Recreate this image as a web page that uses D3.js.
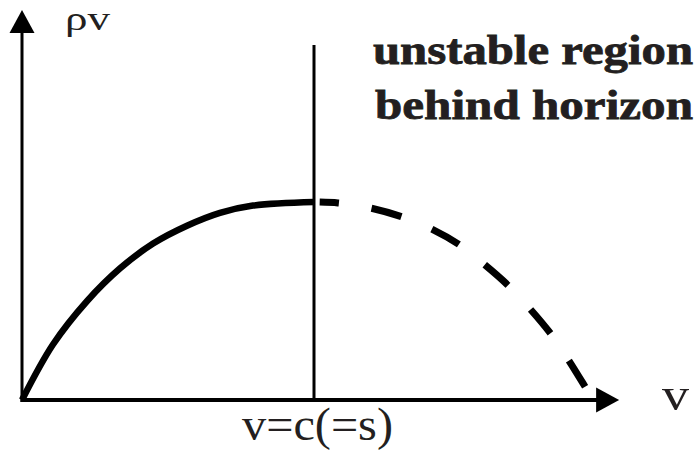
<!DOCTYPE html>
<html>
<head>
<meta charset="utf-8">
<script src="https://cdn.jsdelivr.net/npm/d3@7"></script>
<style>
  body { margin: 0; background: #fff; }
  svg { display: block; }
</style>
</head>
<body>
<div id="viz"></div>
<script>
// rho*v against v, v in units of c, rho*v in units of its maximum
const subsonicV   = [0, 0.106, 0.223, 0.336, 0.449, 0.565, 0.678, 0.791, 1.0];
const subsonicF   = [0, 0.280, 0.500, 0.665, 0.790, 0.880, 0.945, 0.982, 1.0];
const supersonicV = [1.0, 1.082, 1.192, 1.301, 1.397, 1.497, 1.579, 1.664, 1.740, 1.808, 1.866, 1.921, 1.955];
const supersonicF = [1.0, 0.995, 0.970, 0.925, 0.868, 0.785, 0.690, 0.580, 0.460, 0.340, 0.215, 0.085, 0];

const axisLabelY = 'ρv';
const axisLabelX = 'v';
const sonicLabel = 'v=c(=s)';
const regionLabel = ['unstable region', 'behind horizon'];

const dimensions = { width: 694, height: 458 };
const serif = 'Liberation Serif';

const svg = d3.select('#viz').append('svg')
    .attr('width', dimensions.width)
    .attr('height', dimensions.height);

const xScale = d3.scaleLinear().domain([0, 1]).range([22, 314]);
const yScale = d3.scaleLinear().domain([0, 1]).range([400, 202]);

const xEnd = 2.045;   // arrow tip of v axis
const yEnd = 1.97;    // arrow tip of rho v axis
const head = 23, half = 12.5;

// axes
svg.append('line')
    .attr('x1', xScale(0)).attr('x2', xScale(0))
    .attr('y1', yScale(0) + 2).attr('y2', yScale(yEnd) + head - 1)
    .attr('stroke', '#000').attr('stroke-width', 3);

svg.append('line')
    .attr('x1', xScale(0) - 1.5).attr('x2', xScale(xEnd) - head + 1)
    .attr('y1', yScale(0)).attr('y2', yScale(0))
    .attr('stroke', '#000').attr('stroke-width', 4);

const tipX = xScale(xEnd), tipY = yScale(yEnd);
svg.append('path')
    .attr('d', `M${tipX},${yScale(0)} L${tipX - head},${yScale(0) - half} L${tipX - head},${yScale(0) + half} Z`)
    .attr('fill', '#000');
svg.append('path')
    .attr('d', `M${xScale(0)},${tipY} L${xScale(0) - half},${tipY + head} L${xScale(0) + half},${tipY + head} Z`)
    .attr('fill', '#000');

// sonic point line
svg.append('line')
    .attr('x1', xScale(1)).attr('x2', xScale(1))
    .attr('y1', 45).attr('y2', yScale(0))
    .attr('stroke', '#000').attr('stroke-width', 3);

const line = d3.line()
    .x(d => xScale(d[0]))
    .y(d => yScale(d[1]))
    .curve(d3.curveCatmullRom.alpha(0.5));

svg.append('path')
    .datum(d3.zip(subsonicV, subsonicF))
    .attr('d', line)
    .attr('fill', 'none')
    .attr('stroke', '#000')
    .attr('stroke-width', 6.5);

let dashes = '0,6,19,33';
for (let i = 0; i < 10; i++) dashes += ',31,33';

svg.append('path')
    .datum(d3.zip(supersonicV, supersonicF))
    .attr('d', line)
    .attr('fill', 'none')
    .attr('stroke', '#000')
    .attr('stroke-width', 7)
    .attr('stroke-dasharray', dashes);

// labels
svg.append('text')
    .attr('x', 65).attr('y', 30)
    .attr('font-family', serif)
    .attr('font-size', 33)
    .attr('fill', '#231f20')
    .attr('textLength', 45).attr('lengthAdjust', 'spacingAndGlyphs')
    .text(axisLabelY);

svg.append('text')
    .attr('x', 662).attr('y', 410)
    .attr('font-family', serif)
    .attr('font-size', 46)
    .attr('fill', '#231f20')
    .attr('textLength', 27).attr('lengthAdjust', 'spacingAndGlyphs')
    .text(axisLabelX);

svg.append('text')
    .attr('x', 242).attr('y', 440)
    .attr('font-family', serif)
    .attr('font-size', 46)
    .attr('fill', '#231f20')
    .attr('textLength', 151).attr('lengthAdjust', 'spacingAndGlyphs')
    .text(sonicLabel);

// bold note, a hair of stroke to match the heavy face
svg.selectAll('.region')
    .data(regionLabel)
    .enter()
    .append('text')
        .attr('class', 'region')
        .attr('x', (d, i) => i === 0 ? 373 : 375)
        .attr('y', (d, i) => 64 + i * 55)
        .attr('font-family', serif)
        .attr('font-size', 43)
        .attr('font-weight', 'bold')
        .attr('fill', '#231f20')
        .attr('stroke', '#231f20')
        .attr('stroke-width', 0.8)
        .attr('textLength', (d, i) => i === 0 ? 320 : 318)
        .attr('lengthAdjust', 'spacingAndGlyphs')
        .text(d => d);
</script>
</body>
</html>
